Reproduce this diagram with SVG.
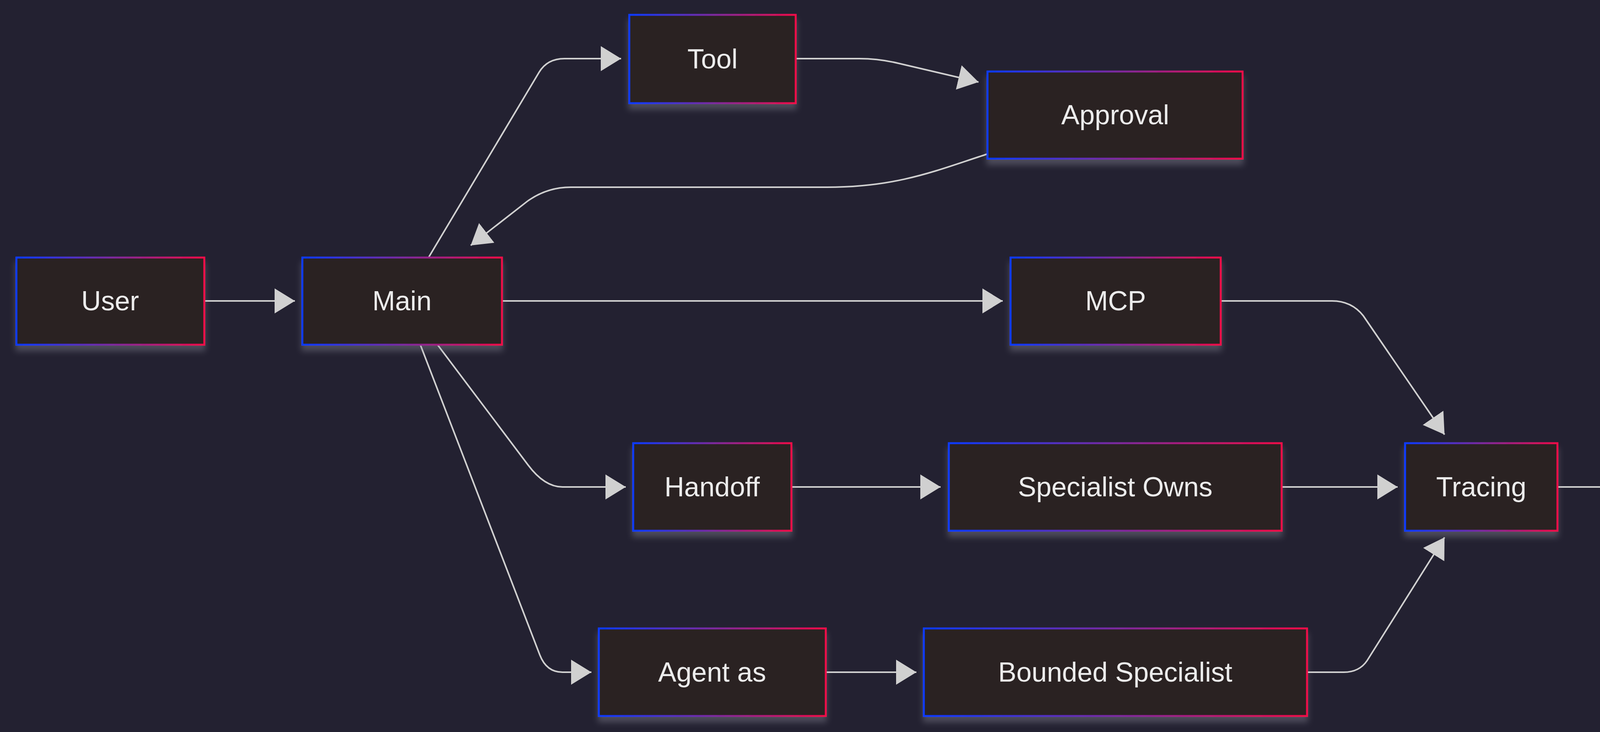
<svg xmlns="http://www.w3.org/2000/svg" width="4611" height="1873" viewBox="0 0 4611 1873">
<defs>
<linearGradient id="g" x1="0" y1="0" x2="1" y2="0"><stop offset="0" stop-color="#0a3aff"/><stop offset="0.5" stop-color="#7a2aa0"/><stop offset="1" stop-color="#f00a48"/></linearGradient>
<filter id="sh" x="-10%" y="-10%" width="120%" height="140%"><feDropShadow dx="0" dy="14" stdDeviation="8" flood-color="#9a9aa8" flood-opacity="0.35"/></filter>
<marker id="ar" markerUnits="userSpaceOnUse" markerWidth="60" markerHeight="64" refX="52" refY="32" orient="auto"><path d="M0,0 L52,32 L0,64 Z" fill="#d0d0d0"/></marker>
<style>
.n rect{fill:#2c2020;stroke:url(#g);stroke-width:5;filter:url(#sh)}
.n text{fill:#ececec;font-family:"Liberation Sans",Arial,sans-serif;font-size:70px;text-anchor:middle;dominant-baseline:central}
.e path{fill:none;stroke:#d0d0d0;stroke-width:4;marker-end:url(#ar)}
</style>
</defs>
<rect width="4611" height="1873" fill="#232131"/>
<g class="e">
<path d="M523,770 L755,770"/>
<path d="M1097,659 L1380,185 Q1401,150 1445,150 L1590,150"/>
<path d="M2037,150 L2200,150 Q2250,150 2300,162 L2505,210"/>
<path d="M2528,394 C2400,435 2300,479 2117,479 L1461,479 Q1400,479 1350,515 L1205,628"/>
<path d="M1285,770 L2567,770"/>
<path d="M3125,770 L3410,770 Q3460,770 3490,808 L3698,1112"/>
<path d="M1120,882 L1352,1190 Q1394,1246 1440,1246 L1602,1246"/>
<path d="M2026,1246 L2408,1246"/>
<path d="M3281,1246 L3578,1246"/>
<path d="M3987,1246 L4219,1246"/>
<path d="M1076,882 L1382,1676 Q1399,1720 1440,1720 L1514,1720"/>
<path d="M2114,1720 L2346,1720"/>
<path d="M3346,1720 L3440,1720 Q3480,1720 3500,1690 L3698,1375"/>
</g>
<g class="n" id="user"><rect x="42" y="659" width="481" height="223"/><text x="282" y="770">User</text></g>
<g class="n" id="main"><rect x="774" y="659" width="511" height="223"/><text x="1029" y="770">Main</text></g>
<g class="n" id="tool"><rect x="1611" y="38" width="426" height="226"/><text x="1824" y="151">Tool</text></g>
<g class="n" id="approval"><rect x="2528" y="183" width="653" height="223"/><text x="2855" y="294">Approval</text></g>
<g class="n" id="mcp"><rect x="2587" y="659" width="538" height="223"/><text x="2856" y="770">MCP</text></g>
<g class="n" id="handoff"><rect x="1621" y="1134" width="405" height="224"/><text x="1823" y="1246">Handoff</text></g>
<g class="n" id="specialist"><rect x="2429" y="1134" width="852" height="224"/><text x="2855" y="1246">Specialist Owns</text></g>
<g class="n" id="tracing"><rect x="3597" y="1134" width="390" height="224"/><text x="3792" y="1246">Tracing</text></g>
<g class="n" id="evals"><rect x="4238" y="1134" width="328" height="224"/><text x="4402" y="1246">Evals</text></g>
<g class="n" id="agentas"><rect x="1533" y="1608" width="581" height="224"/><text x="1823" y="1720">Agent as</text></g>
<g class="n" id="bounded"><rect x="2365" y="1608" width="981" height="224"/><text x="2855" y="1720">Bounded Specialist</text></g>
</svg>
